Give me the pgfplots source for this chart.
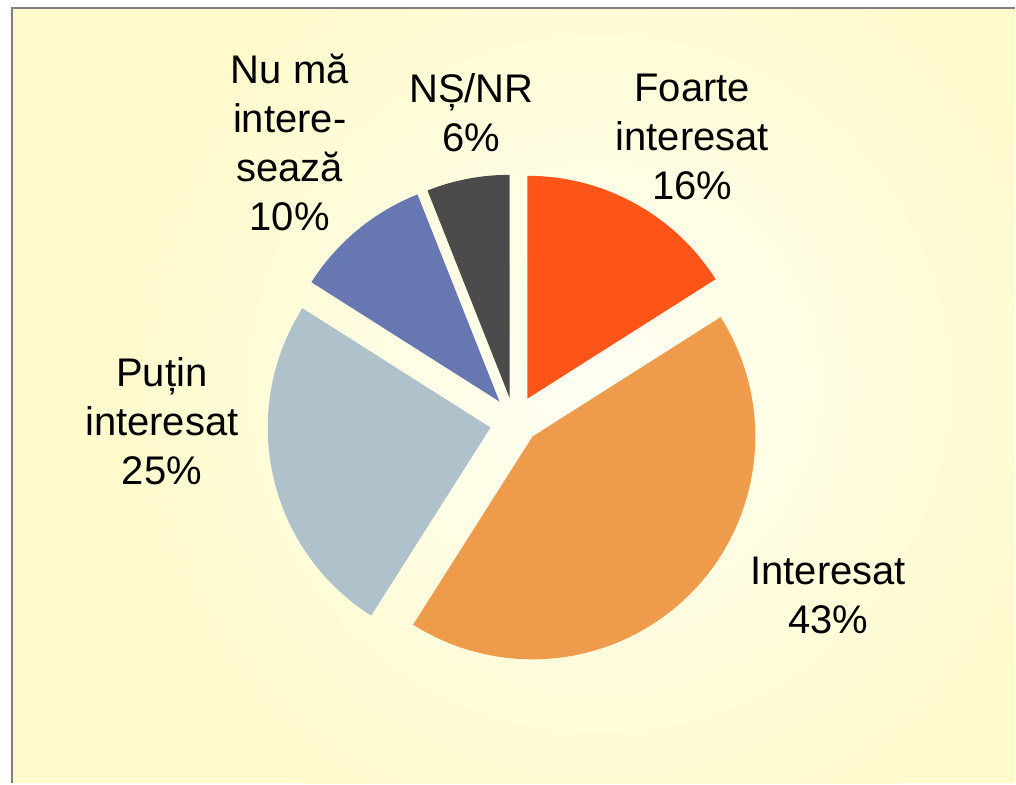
\documentclass[border=0pt]{standalone}
\usepackage{pgfplots}
\usepackage{pgfplotstable}
\pgfplotsset{compat=1.18}
\usepackage{fontspec}
\setmainfont{Liberation Sans}

\definecolor{cFoarte}{HTML}{FF5519}
\definecolor{cInter}{HTML}{EE9B4B}
\definecolor{cPutin}{HTML}{AFC2CC}
\definecolor{cNu}{HTML}{6677B2}
\definecolor{cNS}{HTML}{4B4B4B}
\definecolor{panelouter}{HTML}{FFFACB}
\definecolor{panelinner}{HTML}{FFFFF4}

% share (%), apex of the exploded slice (x, y), colour
\pgfplotstableread{
label value ax ay col
Foarte 16 528 385 cFoarte
Interesat 43 533 347 cInter
Putin 25 491 356 cPutin
Nu 10 500 382 cNu
NS 6 510 386 cNS
}\piedata

\newcommand{\lbl}[3]{\node[anchor=base, font=\fontsize{20}{24}\selectfont] at (axis cs:#1,#2) {#3};}

\begin{document}
\begin{tikzpicture}
\begin{axis}[
    x=0.5pt, y=0.5pt,
    xmin=0, xmax=1016, ymin=0, ymax=784,
    hide axis, clip=false,
]
% background panel
\fill[white] (axis cs:0,0) rectangle (axis cs:1016,784);
\fill[panelouter] (axis cs:12,0) rectangle (axis cs:1016,776);
\begin{scope}
  \clip (axis cs:12,0) rectangle (axis cs:1016,776);
  \shade[inner color=panelinner, outer color=panelouter] (axis cs:600,400) circle[radius=250pt];
\end{scope}
\draw[gray, line width=1pt] (axis cs:12,0) -- (axis cs:12,776) -- (axis cs:1016,776);

% slices, clockwise from 12 o'clock
\pgfplotstablegetrowsof{\piedata}
\pgfmathtruncatemacro{\nrows}{\pgfplotsretval-1}
\def\cum{0}
\pgfplotsforeachungrouped \i in {0,...,\nrows}{
  \pgfplotstablegetelem{\i}{value}\of\piedata \let\slval\pgfplotsretval
  \pgfplotstablegetelem{\i}{ax}\of\piedata \let\slx\pgfplotsretval
  \pgfplotstablegetelem{\i}{ay}\of\piedata \let\sly\pgfplotsretval
  \pgfplotstablegetelem{\i}{col}\of\piedata \let\slcol\pgfplotsretval
  \pgfmathsetmacro{\sa}{90-3.6*\cum}
  \pgfmathsetmacro{\ea}{90-3.6*(\cum+\slval)}
  \pgfmathsetmacro{\cum}{\cum+\slval}
  \edef\temp{\noexpand\fill[\slcol] (axis cs:\slx,\sly) -- ++(\sa:111.5pt)
    arc[start angle=\sa, end angle=\ea, radius=111.5pt] -- cycle;}
  \temp
}

% labels
\lbl{693}{682}{Foarte}
\lbl{693}{633}{interesat}
\lbl{693}{584}{16\%}
\lbl{829}{199}{Interesat}
\lbl{829}{150}{43\%}
\lbl{162}{397}{Puțin}
\lbl{162}{348}{interesat}
\lbl{162}{299}{25\%}
\lbl{290}{700}{Nu mă}
\lbl{290}{651}{intere-}
\lbl{290}{602}{sează}
\lbl{290}{553}{10\%}
\lbl{472}{681}{NȘ/NR}
\lbl{472}{632}{6\%}
\end{axis}
\end{tikzpicture}
\end{document}
